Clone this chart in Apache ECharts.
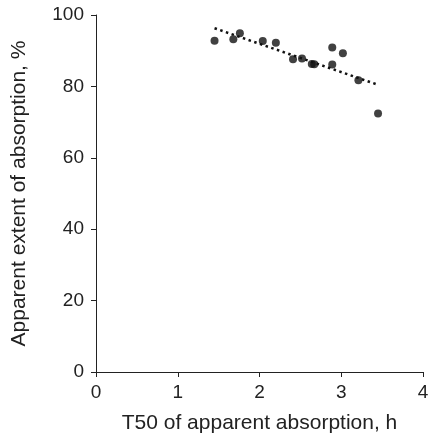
<!DOCTYPE html>
<html>
<head>
<meta charset="utf-8">
<script src="https://cdn.jsdelivr.net/npm/echarts@6/dist/echarts.min.js"></script>
<style>html,body{margin:0;padding:0;background:#fff}#c{width:428px;height:436px}</style>
</head>
<body>
<div id="c"></div>
<script>
const xValues = [1.45, 1.68, 1.76, 2.04, 2.20, 2.41, 2.52, 2.64, 2.67, 2.89, 3.02, 2.89, 3.21, 3.45];
const yValues = [92.8, 93.2, 94.9, 92.7, 92.2, 87.6, 87.8, 86.3, 86.2, 90.9, 89.3, 86.1, 81.7, 72.4];
const trendX = [1.45, 3.43];
const trendY = [96.3, 80.6];
const xTicks = [0, 1, 2, 3, 4];
const yTicks = [0, 20, 40, 60, 80, 100];
const xTitle = 'T50 of apparent absorption, h';
const yTitle = 'Apparent extent of absorption, %';

const font = 'Liberation Sans, Arial, Helvetica, sans-serif';
const chart = echarts.init(document.getElementById('c'), null, {renderer: 'canvas'});
chart.setOption({
  animation: false,
  grid: {left: 96, right: 5, top: 15, bottom: 64, containLabel: false, outerBoundsMode: 'none'},
  xAxis: {
    type: 'value', min: xTicks[0], max: xTicks[xTicks.length - 1], interval: 1,
    name: xTitle, nameLocation: 'middle', nameGap: 41,
    nameTextStyle: {fontFamily: font, fontSize: 21, color: '#222'},
    axisLine: {show: true, onZero: false, lineStyle: {color: '#222', width: 1}},
    axisTick: {show: true, inside: false, length: 5, lineStyle: {color: '#222'}},
    axisLabel: {fontFamily: font, fontSize: 19, color: '#222', margin: 11},
    splitLine: {show: false}
  },
  yAxis: {
    type: 'value', min: yTicks[0], max: yTicks[yTicks.length - 1], interval: 20,
    name: yTitle, nameLocation: 'middle', nameGap: 66,
    nameTextStyle: {fontFamily: font, fontSize: 21, color: '#222'},
    axisLine: {show: true, lineStyle: {color: '#222', width: 1}},
    axisTick: {show: true, inside: false, length: 5, lineStyle: {color: '#222'}},
    axisLabel: {fontFamily: font, fontSize: 19, color: '#222', margin: 12},
    splitLine: {show: false}
  },
  series: [
    {
      type: 'line',
      data: trendX.map((x, i) => [x, trendY[i]]),
      symbol: 'none',
      lineStyle: {color: '#111', width: 2.5, type: [2.5, 3.5]},
      z: 1
    },
    {
      type: 'scatter',
      data: xValues.map((x, i) => [x, yValues[i]]),
      symbol: 'circle', symbolSize: 8,
      itemStyle: {color: '#111'},
      z: 2
    }
  ]
});
</script>
</body>
</html>
